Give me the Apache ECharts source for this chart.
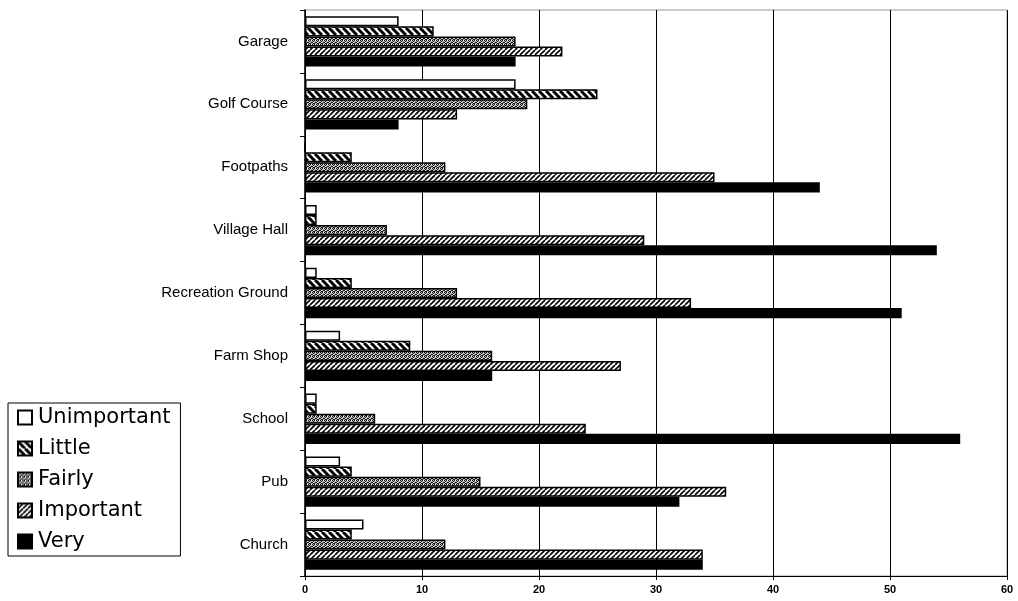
<!DOCTYPE html>
<html><head><meta charset="utf-8">
<script src="https://cdn.jsdelivr.net/npm/echarts@6/dist/echarts.min.js"></script>
<style>html,body{margin:0;padding:0;background:#fff}#c{width:1018px;height:601px}</style>
</head><body><div id="c"></div>
<script>
const categories = ['Garage','Golf Course','Footpaths','Village Hall','Recreation Ground','Farm Shop','School','Pub','Church'];
const seriesNames = ['Unimportant','Little','Fairly','Important','Very'];
const unimportant = [8, 18, 0, 1, 1, 3, 1, 3, 5];
const little      = [11, 25, 4, 1, 4, 9, 1, 4, 4];
const fairly      = [18, 19, 12, 7, 13, 16, 6, 15, 12];
const important   = [22, 13, 35, 29, 33, 27, 24, 36, 34];
const very        = [18, 8, 44, 54, 51, 16, 56, 32, 34];
const xTicks = [0, 10, 20, 30, 40, 50, 60];

function makePattern(kind){
  const c = document.createElement('canvas');
  const ctx = c.getContext('2d');
  if (kind === 'white'){ return '#ffffff'; }
  if (kind === 'black'){ return '#000000'; }
  if (kind === 'back'){
    const s = 7; c.width = s; c.height = s;
    ctx.fillStyle = '#fff'; ctx.fillRect(0,0,s,s);
    ctx.strokeStyle = '#000'; ctx.lineWidth = 3;
    for (let k=-1;k<=1;k++){ ctx.beginPath(); ctx.moveTo(k*s,0); ctx.lineTo(k*s+s,s); ctx.stroke(); }
  } else if (kind === 'fwd'){
    const s = 5; c.width = s; c.height = s;
    ctx.fillStyle = '#fff'; ctx.fillRect(0,0,s,s);
    ctx.strokeStyle = '#000'; ctx.lineWidth = 1.6;
    for (let k=-1;k<=1;k++){ ctx.beginPath(); ctx.moveTo(k*s,s); ctx.lineTo(k*s+s,0); ctx.stroke(); }
  } else if (kind === 'dots'){
    const s = 4; c.width = s; c.height = s;
    ctx.fillStyle = '#b8b8b8'; ctx.fillRect(0,0,s,s);
    ctx.fillStyle = '#111';
    [[0,0],[2,0],[1,1],[3,2],[0,2],[2,3],[1,3]].forEach(p=>ctx.fillRect(p[0],p[1],1,1));
    ctx.fillStyle = '#fff';
    [[3,0],[1,2]].forEach(p=>ctx.fillRect(p[0],p[1],1,1));
  }
  return { image: c, repeat: 'repeat' };
}
const fills = [makePattern('white'), makePattern('back'), makePattern('dots'), makePattern('fwd'), makePattern('black')];
const dataSets = [unimportant, little, fairly, important, very];

const chart = echarts.init(document.getElementById('c'), null, {renderer:'canvas'});
chart.setOption({
  animation: false,
  backgroundColor: '#fff',
  textStyle: { fontFamily: 'Liberation Sans, Arial, sans-serif' },
  grid: { left: 305, right: 11, top: 10, bottom: 25, show: true, borderColor: '#999', borderWidth: 1 },
  legend: {
    orient: 'vertical', left: 8, top: 403,
    data: seriesNames,
    itemWidth: 14, itemHeight: 14, itemGap: 10,
    borderColor: '#000', borderWidth: 1, padding: [4, 10, 4, 9], borderRadius: 0,
    textStyle: { fontSize: 21, color: '#000', padding: [0,0,0,1], fontFamily: 'DejaVu Sans, sans-serif' },
    icon: 'rect'
  },
  xAxis: {
    type: 'value', min: 0, max: 60, interval: 10,
    axisLine: { show: true, lineStyle: { color: '#000', width: 1 } },
    axisTick: { show: true, length: 4, lineStyle: { color: '#000' } },
    axisLabel: { color: '#000', fontSize: 11, fontWeight: 'bold', margin: 8,
      formatter: v => xTicks.includes(v) ? String(v) : '' },
    splitLine: { show: true, lineStyle: { color: '#000', width: 1 } }
  },
  yAxis: {
    type: 'category', data: categories, inverse: true,
    axisLine: { show: true, lineStyle: { color: '#000', width: 1.5 } },
    axisTick: { show: true, length: 5, lineStyle: { color: '#000' } },
    axisLabel: { color: '#000', fontSize: 15, margin: 17 },
    splitLine: { show: false }
  },
  series: seriesNames.map((n, i) => ({
    name: n, type: 'bar', data: dataSets[i],
    barGap: '0%', barCategoryGap: '20%',
    itemStyle: { color: fills[i], borderColor: '#000', borderWidth: 1.5 }
  }))
});
</script>
</body></html>
